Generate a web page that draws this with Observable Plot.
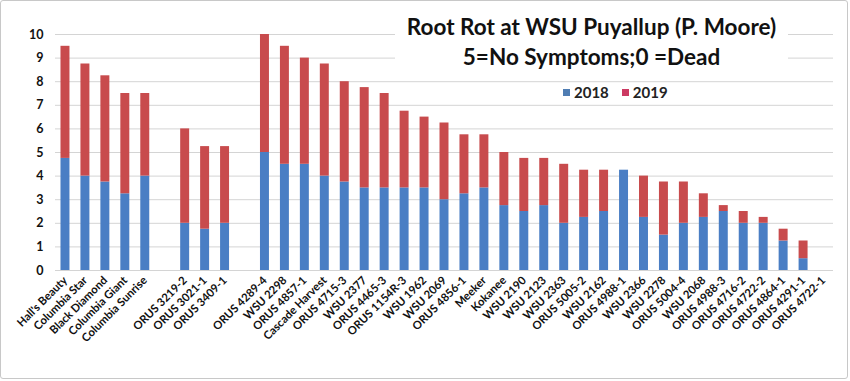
<!DOCTYPE html>
<html>
<head>
<meta charset="utf-8">
<script src="https://cdn.jsdelivr.net/npm/d3@7"></script>
<script src="https://cdn.jsdelivr.net/npm/@observablehq/plot@0.6"></script>
<style>
  html, body { margin: 0; padding: 0; background: #fff; }
  #wrap { position: relative; width: 850px; height: 381px; overflow: hidden; }
  #frame { position: absolute; left: 0; top: 0; width: 846px; height: 377px; border: 1.5px solid #c8c8c8; border-radius: 3px; pointer-events: none; }
  #title { position: absolute; left: 395px; top: 12px; width: 393px; height: 58px; background: #fff;
           font-family: Lato, "Open Sans", sans-serif; font-weight: bold; font-size: 22.5px; line-height: 30px;
           text-align: center; color: #111; }
  #legend { position: absolute; left: 563px; top: 83px; font-family: Lato, sans-serif; font-weight: bold;
            font-size: 15px; color: #222; display: flex; align-items: center; }
  #legend .sw { display: inline-block; width: 7px; height: 7px; margin-right: 4px; }
  #legend .item { display: flex; align-items: center; margin-right: 13px; }
</style>
</head>
<body>
<div id="wrap">
  <div id="chart"></div>
  <div id="title">Root Rot at WSU Puyallup (P. Moore)<br>5=No Symptoms;0 =Dead</div>
  <div id="legend"></div>
  <div id="frame"></div>
</div>
<script>
const categories = [
  "Hall's Beauty", "Columbia Star", "Black Diamond", "Columbia Giant", "Columbia Sunrise",
  "gap1",
  "ORUS 3219-2", "ORUS 3021-1", "ORUS 3409-1",
  "gap2",
  "ORUS 4289-4", "WSU 2298", "ORUS 4857-1", "Cascade Harvest", "ORUS 4715-3", "WSU 2377",
  "ORUS 4465-3", "ORUS 1154R-3", "WSU 1962", "WSU 2069", "ORUS 4856-1", "Meeker", "Kokanee",
  "WSU 2190", "WSU 2123", "WSU 2363", "ORUS 5005-2", "WSU 2162", "ORUS 4988-1", "WSU 2366",
  "WSU 2278", "ORUS 5004-4", "WSU 2068", "ORUS 4988-3", "ORUS 4716-2", "ORUS 4722-2",
  "ORUS 4864-1", "ORUS 4291-1", "ORUS 4722-1"
];
const values2018 = [
  4.75, 4.0, 3.75, 3.25, 4.0,
  0,
  2.0, 1.75, 2.0,
  0,
  5.0, 4.5, 4.5, 4.0, 3.75, 3.5,
  3.5, 3.5, 3.5, 3.0, 3.25, 3.5, 2.75,
  2.5, 2.75, 2.0, 2.25, 2.5, 4.25, 2.25,
  1.5, 2.0, 2.25, 2.5, 2.0, 2.0,
  1.25, 0.5, 0
];
const values2019 = [
  4.75, 4.75, 4.5, 4.25, 3.5,
  0,
  4.0, 3.5, 3.25,
  0,
  5.0, 5.0, 4.5, 4.75, 4.25, 4.25,
  4.0, 3.25, 3.0, 3.25, 2.5, 2.25, 2.25,
  2.25, 2.0, 2.5, 2.0, 1.75, 0, 1.75,
  2.25, 1.75, 1.0, 0.25, 0.5, 0.25,
  0.5, 0.75, 0
];
const series = ["2018", "2019"];
const colors = ["#4a7ec4", "#c84b4d"];
const legendColors = ["#4f7db3", "#cc3a62"];
const yTicks = [0, 1, 2, 3, 4, 5, 6, 7, 8, 9, 10];

const data = [];
categories.forEach((c, i) => {
  data.push({cat: c, year: series[0], v: values2018[i]});
  data.push({cat: c, year: series[1], v: values2019[i]});
});

const chart = Plot.plot({
  width: 850,
  height: 381,
  marginLeft: 55,
  marginRight: 17,
  marginTop: 34,
  marginBottom: 111,
  style: {fontFamily: "Lato, sans-serif", background: "transparent", overflow: "visible"},
  x: {domain: categories, paddingInner: 0.55, paddingOuter: 0.275, align: 0.5, label: null},
  y: {domain: [0, 10], label: null},
  color: {domain: series, range: colors},
  marks: [
    Plot.gridY(yTicks, {stroke: "#d4d4d4", strokeOpacity: 1, strokeWidth: 1}),
    Plot.barY(data, Plot.stackY({x: "cat", y: "v", fill: "year", order: series})),
    Plot.ruleY([0], {stroke: "#d4d4d4", strokeWidth: 1}),
    Plot.axisY(yTicks, {tickSize: 0, tickPadding: 12, fontSize: 12.5, fontWeight: "bold", fill: "#111", label: null}),
    Plot.axisX({tickSize: 0, tickRotate: -45, tickPadding: 8, fontSize: 11.3, fontWeight: "bold", fill: "#111",
      label: null, tickFormat: d => d.startsWith("gap") ? "" : d})
  ]
});
document.getElementById("chart").appendChild(chart);

const legend = document.getElementById("legend");
series.forEach((s, i) => {
  const item = document.createElement("div");
  item.className = "item";
  const sw = document.createElement("span");
  sw.className = "sw";
  sw.style.background = legendColors[i];
  item.appendChild(sw);
  item.appendChild(document.createTextNode(s));
  legend.appendChild(item);
});
</script>
</body>
</html>
